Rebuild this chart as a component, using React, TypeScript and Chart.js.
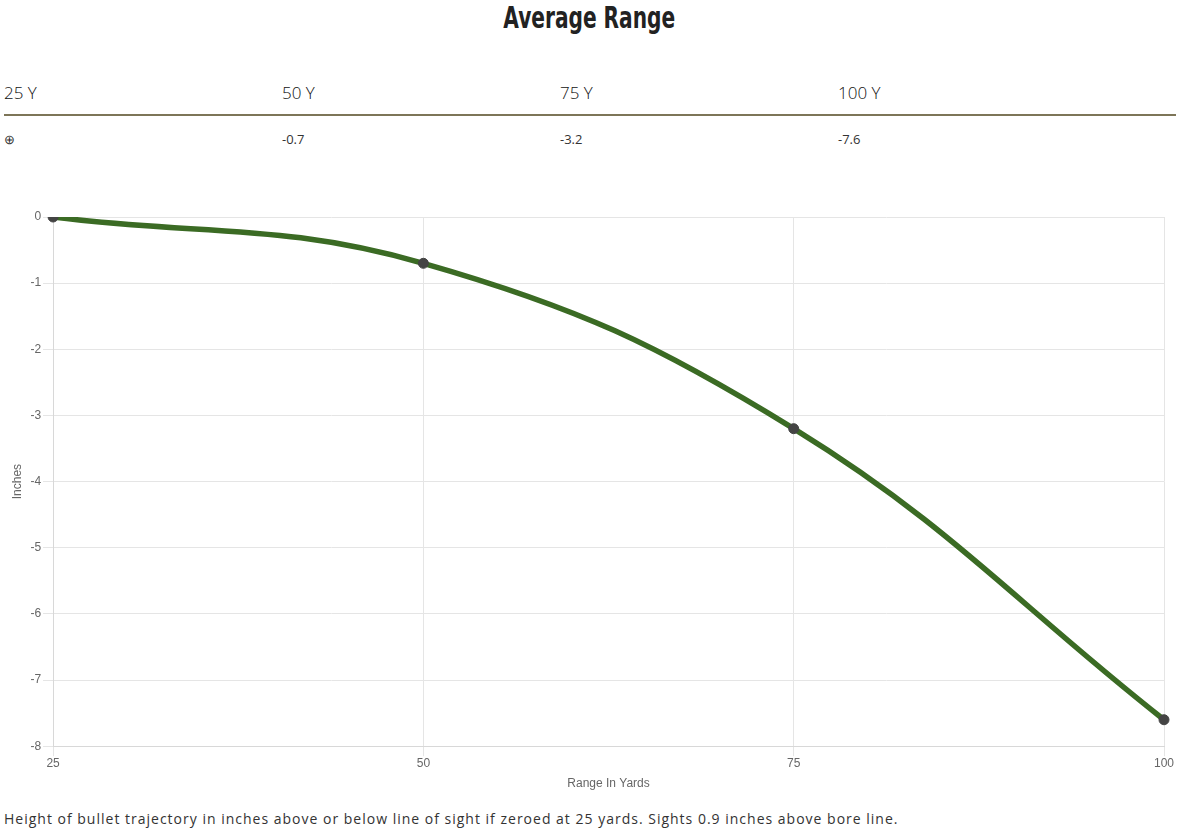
import { useEffect, useRef } from "react"
import { Chart, registerables, ChartConfiguration } from "chart.js"

Chart.register(...registerables)

const ranges = ["25", "50", "75", "100"]
const drops = [0, -0.7, -3.2, -7.6]
const headerLabels = ["25 Y", "50 Y", "75 Y", "100 Y"]
const headerValues = ["⊕", "-0.7", "-3.2", "-7.6"]

const tickFont = { family: "'Liberation Sans', Arial, sans-serif", size: 12 }

function TrajectoryChart() {
  const chartRef = useRef<HTMLCanvasElement>(null)
  const chartInstance = useRef<Chart | null>(null)

  useEffect(() => {
    if (!chartRef.current) return
    if (chartInstance.current) chartInstance.current.destroy()
    const ctx = chartRef.current.getContext("2d")
    if (!ctx) return

    const config: ChartConfiguration = {
      type: "line",
      data: {
        labels: ranges,
        datasets: [
          {
            data: drops,
            borderColor: "#3b6b24",
            borderWidth: 5.5,
            backgroundColor: "#444444",
            pointBackgroundColor: "#444444",
            pointBorderColor: "#444444",
            pointRadius: 5,
            pointBorderWidth: 1,
            tension: 0.4,
            fill: false,
          },
        ],
      },
      options: {
        responsive: true,
        maintainAspectRatio: false,
        animation: false,
        layout: { padding: { top: 15, right: 12, left: 10, bottom: 0 } },
        plugins: {
          legend: { display: false },
          tooltip: { enabled: false },
        },
        scales: {
          x: {
            type: "category",
            offset: false,
            grid: { color: "#e5e5e5", tickLength: 10, drawOnChartArea: true },
            border: { color: "#d8d8d8" },
            ticks: { color: "#666", font: tickFont, maxRotation: 0, padding: 0 },
            title: {
              display: true,
              text: "Range In Yards",
              color: "#666",
              font: tickFont,
              padding: { top: 6, bottom: 0 },
            },
          },
          y: {
            min: -8,
            max: 0,
            grid: { color: "#e5e5e5", tickLength: 10 },
            border: { color: "#d8d8d8" },
            ticks: { stepSize: 1, color: "#666", font: tickFont, padding: 2 },
            title: {
              display: true,
              text: "Inches",
              color: "#666",
              font: tickFont,
              padding: { top: 0, bottom: 4 },
            },
          },
        },
      },
    }

    chartInstance.current = new Chart(ctx, config)
    return () => {
      if (chartInstance.current) {
        chartInstance.current.destroy()
        chartInstance.current = null
      }
    }
  }, [])

  return (
    <div style={{ position: "absolute", left: 0, top: 202, width: 1176, height: 589 }}>
      <canvas ref={chartRef} />
    </div>
  )
}

export default function App() {
  const body = "'Open Sans', 'Noto Sans', sans-serif"
  return (
    <div style={{ position: "relative", width: 1179, height: 830, background: "#fff", overflow: "hidden" }}>
      <style>{"body{margin:0}"}</style>
      <div
        style={{
          position: "absolute",
          top: 0,
          left: 0,
          width: 1179,
          textAlign: "center",
        }}
      >
        <span
          style={{
            display: "inline-block",
            transform: "scaleX(0.65)",
            fontFamily: "'DejaVu Sans', 'Roboto', sans-serif",
            fontWeight: 700,
            fontSize: 31,
            lineHeight: "34px",
            color: "#222",
          }}
        >
          Average Range
        </span>
      </div>
      {headerLabels.map((t, i) => (
        <div
          key={t}
          style={{
            position: "absolute",
            left: 4 + i * 278,
            top: 81,
            fontFamily: body,
            fontSize: 17,
            fontWeight: 300,
            lineHeight: "24px",
            color: "#111",
          }}
        >
          {t}
        </div>
      ))}
      <div style={{ position: "absolute", left: 4, top: 114, width: 1172, height: 2, background: "#7d7558" }} />
      {headerValues.map((t, i) => (
        <div
          key={i}
          style={{
            position: "absolute",
            left: 4 + i * 278,
            top: 130,
            fontFamily: body,
            fontSize: 13,
            lineHeight: "18px",
            color: "#333",
          }}
        >
          {t}
        </div>
      ))}
      <TrajectoryChart />
      <div
        style={{
          position: "absolute",
          left: 4,
          top: 809,
          fontFamily: body,
          fontSize: 14,
          letterSpacing: 1,
          lineHeight: "20px",
          color: "#333",
        }}
      >
        Height of bullet trajectory in inches above or below line of sight if zeroed at 25 yards. Sights 0.9 inches above bore line.
      </div>
    </div>
  )
}
